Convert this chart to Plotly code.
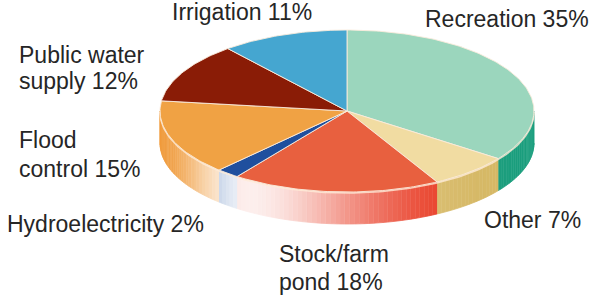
import math
import plotly.graph_objects as go

# ---- data ----
categories = ["Recreation", "Other", "Stock/farm pond", "Hydroelectricity",
              "Flood control", "Public water supply", "Irrigation"]
percent = [35, 7, 18, 2, 15, 12, 11]
label_lines = [["Recreation 35%"], ["Other 7%"], ["Stock/farm", "pond 18%"],
               ["Hydroelectricity 2%"], ["Flood", "control 15%"],
               ["Public water", "supply 12%"], ["Irrigation 11%"]]

# ---- style ----
top_colors = ["#9bd6bd", "#f1dca2", "#e8603f", "#1f4f9e", "#f0a244", "#8a1c06", "#45a6d0"]
side_colors = ["#1b9e7d", "#d6b864", "#e8361e", "#2a5aa8", "#f09a3a", "#7a1505", "#3090c0"]
label_pos = [  # (left x, line middle y) in screen pixels
    [(423, 19)], [(482, 219.5)], [(277, 253.5), (277, 281.5)], [(5, 223.5)],
    [(17, 140), (17, 169)], [(17, 55), (17, 81)], [(170, 12)]]

W, H = 589, 297
cx, cy, rx, ry, depth = 347, 111, 187, 81, 32


def pt(theta_deg, dy=0.0):
    t = math.radians(theta_deg)
    return cx + rx * math.sin(t), cy - ry * math.cos(t) + dy


def mix(hexc, w):
    r, g, b = int(hexc[1:3], 16), int(hexc[3:5], 16), int(hexc[5:7], 16)
    r = r + (255 - r) * w
    g = g + (255 - g) * w
    b = b + (255 - b) * w
    return "rgb(%d,%d,%d)" % (r, g, b)


def light(phi):
    if phi < 212:
        return 0.92 * math.exp(-((phi - 212) / 40.0) ** 2)
    return 0.92 * math.exp(-((phi - 212) / 25.0) ** 2)


fig = go.Figure()

# slice angle ranges (clockwise from 12 o'clock)
total = sum(percent)
bounds = []
acc = 0.0
for p in percent:
    a0 = acc / total * 360
    acc += p
    a1 = acc / total * 360
    bounds.append((a0, a1))

# side walls (front half only), split into shaded strips
for i, (a0, a1) in enumerate(bounds):
    s0, s1 = max(a0, 90), min(a1, 270)
    if s1 <= s0:
        continue
    n = max(1, int(math.ceil((s1 - s0) / 1.5)))
    for k in range(n):
        b0 = s0 + (s1 - s0) * k / n
        b1 = s0 + (s1 - s0) * (k + 1) / n
        col = mix(side_colors[i], light((b0 + b1) / 2))
        xs, ys = [], []
        for a in (b0, b1):
            x, y = pt(a)
            xs.append(x); ys.append(y)
        for a in (b1, b0):
            x, y = pt(a, depth)
            xs.append(x); ys.append(y)
        fig.add_trace(go.Scatter(x=xs, y=ys, mode="lines", fill="toself",
                                 fillcolor=col, line=dict(color=col, width=0.8),
                                 hoverinfo="skip", showlegend=False))

# rim highlight along the front top edge
rx_l, ry_l = [], []
a = 90.0
while a <= 270.0:
    x, y = pt(a, 1)
    rx_l.append(x); ry_l.append(y)
    a += 1
fig.add_trace(go.Scatter(x=rx_l, y=ry_l, mode="lines",
                         line=dict(color="rgba(255,235,215,0.8)", width=1.5),
                         hoverinfo="skip", showlegend=False))

# top face slices
for i, (a0, a1) in enumerate(bounds):
    xs, ys = [cx], [cy]
    n = max(2, int(math.ceil((a1 - a0) / 1.0)))
    for k in range(n + 1):
        x, y = pt(a0 + (a1 - a0) * k / n)
        xs.append(x); ys.append(y)
    xs.append(cx); ys.append(cy)
    fig.add_trace(go.Scatter(x=xs, y=ys, mode="lines", fill="toself",
                             fillcolor=top_colors[i],
                             line=dict(color="rgba(250,235,220,0.9)", width=1),
                             hoverinfo="skip", showlegend=False))

# labels
for lines, poss in zip(label_lines, label_pos):
    for txt, (x, y) in zip(lines, poss):
        fig.add_annotation(x=x, y=y, text=txt, xref="x", yref="y",
                           xanchor="left", yanchor="middle", showarrow=False,
                           font=dict(family="Liberation Sans, Arial, sans-serif",
                                     size=23, color="#262626"))

fig.update_layout(width=W, height=H, margin=dict(l=0, r=0, t=0, b=0),
                  paper_bgcolor="white", plot_bgcolor="white",
                  hovermode=False,
                  xaxis=dict(range=[0, W], visible=False, fixedrange=True),
                  yaxis=dict(range=[H, 0], visible=False, fixedrange=True))

fig.write_html("out.html",
               config={"displayModeBar": False, "staticPlot": True},
               post_script="document.body.style.margin='0';"
                           "document.body.style.overflow='hidden';")
